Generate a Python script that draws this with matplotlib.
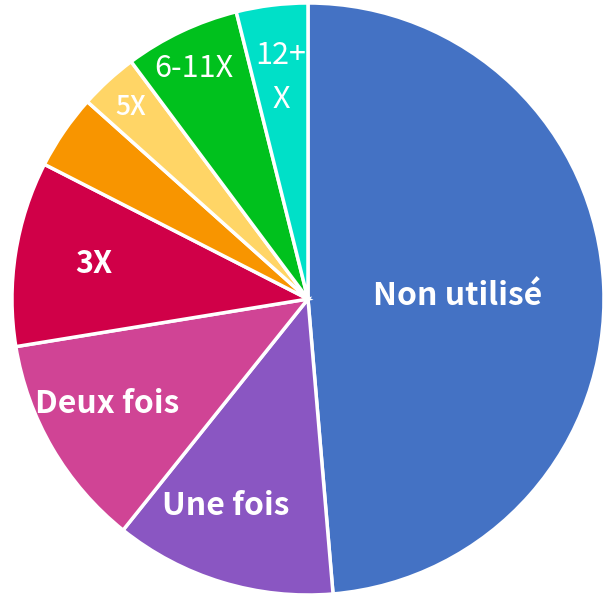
import matplotlib.pyplot as plt

plt.rcParams["font.family"] = ["Noto Sans CJK JP", "DejaVu Sans"]

labels = ["Non utilisé", "Une fois", "Deux fois", "3X", "", "5X", "6-11X", "12+\nX"]
shares = [48.7, 12.1, 11.7, 10.1, 4.1, 3.2, 6.3, 3.9]
colors = ["#4472C4", "#8A56C2", "#D04495", "#D00048", "#F89500",
          "#FFD566", "#00C11D", "#00E0C8"]

# label anchor points (pie radius units) and styling
label_pos = [(0.507, 0.01), (-0.277, -0.70), (-0.679, -0.355), (-0.723, 0.118),
             (0, 0), (-0.598, 0.648), (-0.385, 0.78), (-0.091, 0.748)]
label_size = [23, 23, 23, 22, 0, 19, 22, 22]
label_weight = ["bold", "bold", "bold", "bold", "normal", "medium", "normal", "normal"]

fig = plt.figure(figsize=(6.06, 5.95), dpi=100)
ax = fig.add_axes([0, 0, 1, 1])
ax.pie(shares, colors=colors, startangle=90, counterclock=False, radius=1,
       wedgeprops=dict(edgecolor="white", linewidth=2.5))

for lab, (x, y), fs, fw in zip(labels, label_pos, label_size, label_weight):
    if lab:
        ax.text(x, y, lab, color="white", fontsize=fs, fontweight=fw,
                ha="center", va="center", linespacing=1.55)

ax.set_xlim(-1.0405, 1.0068)
ax.set_ylim(-1.0, 1.0101)
ax.set_aspect("equal")
ax.axis("off")
fig.savefig("out.png", dpi=100)
